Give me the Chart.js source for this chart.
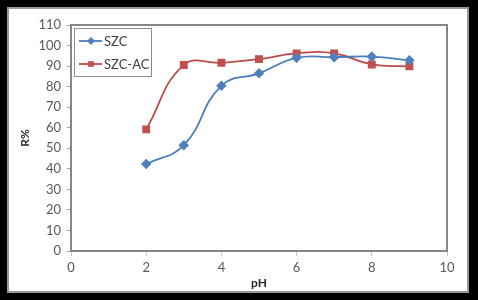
<!DOCTYPE html>
<html>
<head>
<meta charset="utf-8">
<script src="https://cdn.jsdelivr.net/npm/chart.js@4/dist/chart.umd.min.js"></script>
<style>
  html, body { margin: 0; padding: 0; background: #fff; }
  #wrap { position: relative; width: 478px; height: 300px; overflow: hidden; }
  #chart { position: absolute; left: 0; top: 0; }
  #frame {
    position: absolute; left: 0; top: 0; width: 478px; height: 300px;
    box-sizing: border-box; border-style: solid; border-color: #000;
    border-width: 7px 9px 7px 7px; pointer-events: none;
  }
  #frame::after {
    content: ""; position: absolute; left: 0; top: 0; right: 0; bottom: 0;
    border: 2px solid #9a9a9a;
  }
</style>
</head>
<body>
<div id="wrap">
  <canvas id="chart" width="478" height="300"></canvas>
  <div id="frame"></div>
</div>
<script>
// pH values and removal percentages
const phValues = [2, 3, 4, 5, 6, 7, 8, 9];
const szcValues = [42.3, 51.5, 80.4, 86.5, 94.0, 94.3, 94.6, 92.8];
const szcAcValues = [59.2, 90.5, 91.6, 93.4, 96.2, 96.2, 90.8, 89.9];
const seriesNames = ["SZC", "SZC-AC"];
const xTitle = "pH";
const yTitle = "R%";

const axisColor = "#868686";
const tickText = "#595959";
const fontFamily = "Lato, 'Open Sans', sans-serif";

function toPoints(ys) {
  return phValues.map((x, i) => ({ x, y: ys[i] }));
}

// plot frame (top + right edges too, like Excel)
const plotBorder = {
  id: "plotBorder",
  afterDatasetsDraw(chart) {
    const { ctx, chartArea: a } = chart;
    ctx.save();
    ctx.strokeStyle = axisColor;
    ctx.lineWidth = 2;
    ctx.strokeRect(a.left, a.top, a.right - a.left, a.bottom - a.top);
    ctx.restore();
  }
};

// legend box drawn inside the plot, top-left
const insideLegend = {
  id: "insideLegend",
  afterDraw(chart) {
    const { ctx, chartArea: a } = chart;
    const x0 = a.left + 3, y0 = a.top + 3, w = 77, h = 48;
    ctx.save();
    ctx.fillStyle = "#fff";
    ctx.fillRect(x0, y0, w, h);
    ctx.strokeStyle = "#8c8c8c";
    ctx.lineWidth = 1;
    ctx.strokeRect(x0 + 0.5, y0 + 0.5, w, h);
    chart.data.datasets.forEach((ds, i) => {
      const y = y0 + 13 + i * 23;
      ctx.strokeStyle = ds.borderColor;
      ctx.lineWidth = 1.8;
      ctx.beginPath();
      ctx.moveTo(x0 + 5, y);
      ctx.lineTo(x0 + 28, y);
      ctx.stroke();
      ctx.fillStyle = ds.pointBackgroundColor;
      Chart.helpers.drawPoint(ctx, { pointStyle: ds.pointStyle, radius: 4, rotation: 0, borderWidth: 0 }, x0 + 17, y);
      ctx.fillStyle = "#404040";
      ctx.font = "13px " + fontFamily;
      ctx.textBaseline = "middle";
      ctx.fillText(ds.label, x0 + 30, y + 1);
    });
    ctx.restore();
  }
};

new Chart(document.getElementById("chart"), {
  type: "line",
  data: {
    datasets: [
      {
        label: seriesNames[0],
        data: toPoints(szcValues),
        borderColor: "#4a7ebb",
        backgroundColor: "#4f81bd",
        pointBackgroundColor: "#4f81bd",
        pointBorderColor: "#4f81bd",
        pointStyle: "rectRot",
        pointRadius: 4,
        borderWidth: 1.8,
        tension: 0.45,
        fill: false
      },
      {
        label: seriesNames[1],
        data: toPoints(szcAcValues),
        borderColor: "#be4b48",
        backgroundColor: "#c0504d",
        pointBackgroundColor: "#c0504d",
        pointBorderColor: "#c0504d",
        pointStyle: "rect",
        pointRadius: 4.3,
        borderWidth: 1.8,
        tension: 0.45,
        fill: false
      }
    ]
  },
  options: {
    responsive: false,
    animation: false,
    devicePixelRatio: 1,
    layout: { padding: { left: 0, top: 25, right: 31, bottom: 0 } },
    plugins: { legend: { display: false }, tooltip: { enabled: false } },
    scales: {
      x: {
        type: "linear",
        min: 0,
        max: 10,
        afterFit: s => { s.height = 49; },
        ticks: { stepSize: 2, color: tickText, font: { family: fontFamily, size: 13 }, padding: 4, maxRotation: 0 },
        grid: { drawOnChartArea: false, drawTicks: true, tickLength: 5, color: "#c8c8c8" },
        border: { display: true, color: axisColor, width: 2 },
        title: {
          display: true, text: xTitle, color: "#262626",
          font: { family: fontFamily, size: 12, weight: "bold" },
          padding: { top: 0, bottom: 10 }
        }
      },
      y: {
        min: 0,
        max: 110,
        afterFit: s => { s.width = 71; },
        ticks: { stepSize: 10, color: tickText, font: { family: fontFamily, size: 13 }, padding: 6 },
        grid: { drawOnChartArea: false, drawTicks: true, tickLength: 4, color: "#a0a0a0" },
        border: { display: true, color: axisColor, width: 2 },
        title: {
          display: true, text: yTitle, color: "#262626",
          font: { family: fontFamily, size: 12, weight: "bold" },
          padding: { top: 18, bottom: 0 }
        }
      }
    }
  },
  plugins: [plotBorder, insideLegend]
});
</script>
</body>
</html>
